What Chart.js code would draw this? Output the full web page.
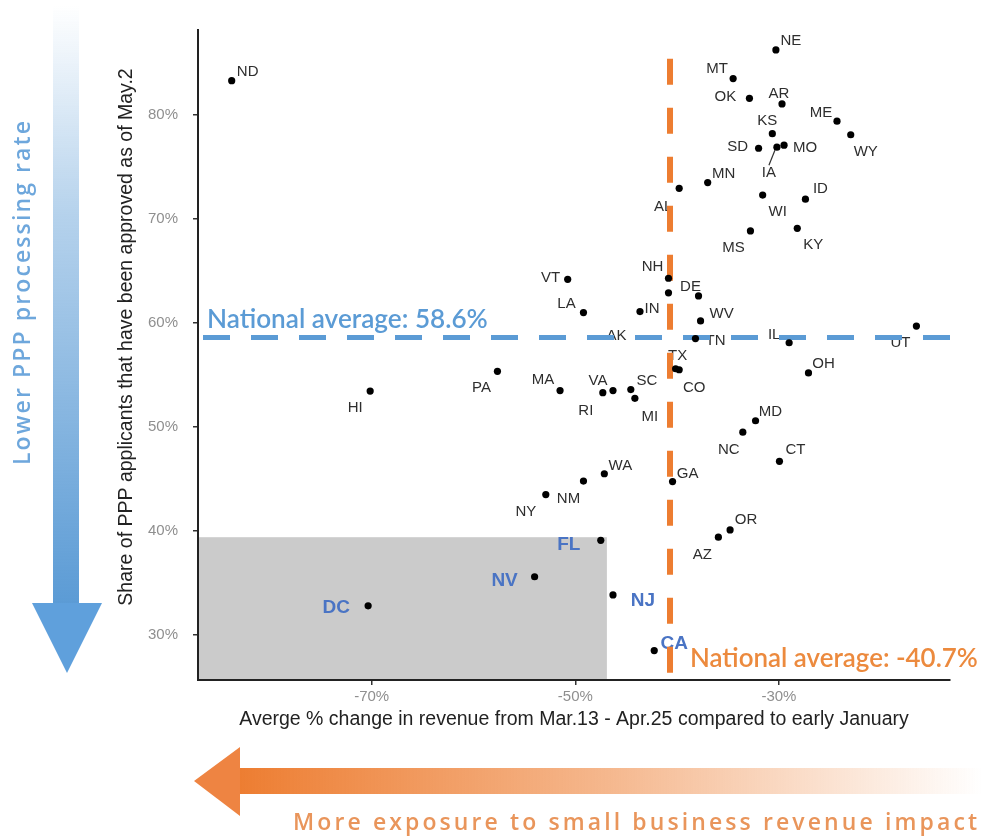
<!DOCTYPE html>
<html>
<head>
<meta charset="utf-8">
<script src="https://cdn.jsdelivr.net/npm/chart.js@4.4.1/dist/chart.umd.min.js"></script>
<style>
  html, body { margin: 0; padding: 0; background: #fff; }
  #wrap { position: relative; width: 982px; height: 837px; }
</style>
</head>
<body>
<div id="wrap"><canvas id="chart"></canvas></div>
<script>
// Данные: штат, изменение выручки (%), доля одобренных заявок PPP (%)
const states = ['ND','VT','LA','NE','MT','OK','AR','ME','WY','KS','SD','IA','MO','AL','MN','WI','ID','MS','KY',
                'NH','AK','DE','IN','WV','TN','IL','UT','TX','CO','OH','PA','HI','MA','RI','VA','SC','MI',
                'MD','NC','CT','WA','NM','NY','GA','OR','AZ','FL','NJ','CA','NV','DC'];
const revenueChange = [-83.75,-50.75,-49.2,-30.3,-34.5,-32.9,-29.7,-24.3,-22.95,-30.65,-32.0,-30.2,-29.5,-39.8,-37.0,-31.6,-27.4,-32.8,-28.2,
                       -40.85,-40.85,-37.9,-43.65,-37.7,-38.2,-29.0,-16.5,-40.15,-39.8,-27.1,-57.65,-70.15,-51.5,-47.3,-46.3,-44.55,-44.15,
                       -32.3,-33.55,-29.95,-47.15,-49.2,-52.9,-40.45,-34.8,-35.95,-47.5,-46.3,-42.25,-54.0,-70.35];
const approvedShare = [83.3,64.2,61.0,86.25,83.5,81.6,81.06,79.4,78.1,78.2,76.8,76.9,77.1,72.95,73.5,72.3,71.9,68.85,69.1,
                       64.3,62.9,62.6,61.1,60.2,58.5,58.1,59.7,55.6,55.5,55.2,55.35,53.45,53.5,53.3,53.5,53.6,52.75,
                       50.6,49.5,46.7,45.5,44.8,43.5,44.75,40.1,39.4,39.1,33.85,28.5,35.6,32.8];
const highlighted = ['FL','NJ','CA','NV','DC'];

const xTicks = [-70, -50, -30];
const yTicks = [30, 40, 50, 60, 70, 80];
const xMin = -87.06, xMax = -13.2;
const yMin = 25.67, yMax = 88.17;

const nationalRevenue = -40.7;
const nationalApproved = 58.6;
const revenueLineTop = 85.4;
const shadedCorner = [-46.9, 39.4];

const yTitle = 'Share of PPP applicants that have been approved as of May.2';

// где стоит подпись относительно точки (px)
const labelOffset = {
  ND:[16,-9], VT:[-17,-1], LA:[-17,-9], NE:[15,-9], MT:[-16,-10], OK:[-24,-1], AR:[-3,-10], ME:[-16,-8],
  WY:[15,17], KS:[-5,-13], SD:[-21,-1], IA:[-8,26], MO:[21,3], AL:[-16,19], MN:[16,-9], WI:[15,17],
  ID:[15,-10], MS:[-17,17], KY:[16,17], NH:[-16,-11], AK:[-52,43], DE:[-8,-9], IN:[12,-3], WV:[21,-7],
  TN:[20,2], IL:[-15,-8], UT:[-16,17], TX:[2,-13], CO:[15,18], OH:[15,-9], PA:[-16,17], HI:[-15,17],
  MA:[-17,-11], RI:[-17,18], VA:[-15,-10], SC:[16,-9], MI:[15,18], MD:[15,-9], NC:[-14,18], CT:[16,-11],
  WA:[16,-8], NM:[-15,18], NY:[-20,17], GA:[15,-8], OR:[16,-10], AZ:[-16,18], FL:[-32,4], NJ:[30,6],
  CA:[20,-7], NV:[-30,4], DC:[-32,2]
};

const BLUE = '#5b9bd5';
const ORANGE = '#ed7d31';
const FONT = '"Liberation Sans", Arial, sans-serif';

function drawSpaced(ctx, text, x, y, target) {
    const widths = [...text].map(ch => ctx.measureText(ch).width);
    const total = widths.reduce((a, b) => a + b, 0);
    const gap = (target - total) / (text.length - 1);
    [...text].forEach((ch, i) => {
        ctx.fillText(ch, x, y);
        x += widths[i] + gap;
    });
}

function fitFont(ctx, text, weight, family, target) {
    ctx.font = `${weight} 100px ${family}`;
    const size = 100 * target / ctx.measureText(text).width;
    ctx.font = `${weight} ${size}px ${family}`;
}

// стрелки и подписи вне области графика
const decorations = {
    id: 'decorations',
    beforeDraw(chart) {
        const ctx = chart.ctx;
        ctx.save();
        // синяя стрелка слева
        let g = ctx.createLinearGradient(0, 5, 0, 605);
        g.addColorStop(0, 'rgba(91,155,213,0)');
        g.addColorStop(0.35, 'rgba(91,155,213,0.45)');
        g.addColorStop(1, 'rgba(91,155,213,1)');
        ctx.fillStyle = g;
        ctx.fillRect(53, 5, 26, 600);
        ctx.fillStyle = '#5fa0dc';
        ctx.beginPath();
        ctx.moveTo(32, 603); ctx.lineTo(102, 603); ctx.lineTo(67, 673); ctx.closePath();
        ctx.fill();

        // оранжевая стрелка снизу
        g = ctx.createLinearGradient(237, 0, 982, 0);
        g.addColorStop(0, 'rgba(237,125,49,1)');
        g.addColorStop(0.5, 'rgba(237,125,49,0.55)');
        g.addColorStop(1, 'rgba(237,125,49,0)');
        ctx.fillStyle = g;
        ctx.fillRect(236, 768, 746, 26);
        ctx.fillStyle = '#ee8442';
        ctx.beginPath();
        ctx.moveTo(240, 747); ctx.lineTo(240, 816); ctx.lineTo(194, 781); ctx.closePath();
        ctx.fill();

        // тексты у стрелок
        ctx.fillStyle = '#6ea7dc';
        ctx.font = `600 23px "Open Sans", sans-serif`;
        ctx.textBaseline = 'middle';
        ctx.textAlign = 'left';
        ctx.save();
        ctx.translate(23, 293);
        ctx.rotate(-Math.PI / 2);
        drawSpaced(ctx, 'Lower PPP processing rate', -172, 0, 344);
        ctx.restore();

        ctx.fillStyle = '#e9955b';
        drawSpaced(ctx, 'More exposure to small business revenue impact', 293, 823, 684);

        // подпись оси Y
        ctx.fillStyle = '#222';
        ctx.font = `19.5px ${FONT}`;
        ctx.textAlign = 'center';
        ctx.translate(127, 337);
        ctx.rotate(-Math.PI / 2);
        ctx.fillText(yTitle, 0, 0);
        ctx.restore();
    },
    beforeDatasetsDraw(chart) {
        const ctx = chart.ctx;
        const { x, y } = chart.scales;
        const area = chart.chartArea;
        ctx.save();
        // серая зона
        ctx.fillStyle = '#cbcbcb';
        const rx = x.getPixelForValue(shadedCorner[0]);
        const ry = y.getPixelForValue(shadedCorner[1]);
        ctx.fillRect(area.left + 1, ry, rx - area.left - 1, area.bottom - 1 - ry);

        // подписи штатов
        const meta = chart.getDatasetMeta(0);
        ctx.textAlign = 'center';
        ctx.textBaseline = 'middle';
        meta.data.forEach((pt, i) => {
            const s = states[i];
            const off = labelOffset[s] || [14, -9];
            const hi = highlighted.includes(s);
            ctx.font = hi ? `bold 19px ${FONT}` : `15px ${FONT}`;
            ctx.fillStyle = hi ? '#4a74c4' : '#2e2e2e';
            ctx.fillText(s, pt.x + off[0], pt.y + off[1]);
            if (s === 'IA') {
                ctx.strokeStyle = '#333';
                ctx.lineWidth = 1.2;
                ctx.beginPath();
                ctx.moveTo(pt.x + off[0], pt.y + off[1] - 8);
                ctx.lineTo(pt.x - 2, pt.y + 3);
                ctx.stroke();
            }
        });
        ctx.restore();
    },
    afterDraw(chart) {
        const ctx = chart.ctx;
        ctx.save();
        ctx.textAlign = 'left';
        ctx.textBaseline = 'alphabetic';
        ctx.fillStyle = '#5b9bd5';
        fitFont(ctx, `National average: ${nationalApproved}%`, '600', 'Lato, "Open Sans", sans-serif', 281);
        ctx.fillText(`National average: ${nationalApproved}%`, 207, 328);
        ctx.fillStyle = '#ec8a3e';
        fitFont(ctx, `National average: ${nationalRevenue}%`, '600', 'Lato, "Open Sans", sans-serif', 288);
        ctx.fillText(`National average: ${nationalRevenue}%`, 690, 667);
        ctx.restore();
    }
};

Chart.defaults.font.family = FONT;

new Chart(document.getElementById('chart'), {
    type: 'scatter',
    data: {
        datasets: [
            {
                data: states.map((s, i) => ({ x: revenueChange[i], y: approvedShare[i] })),
                backgroundColor: '#000',
                borderWidth: 0,
                pointRadius: 3.6,
                pointHoverRadius: 3.6,
                order: 0
            },
            {
                data: [{ x: nationalRevenue, y: revenueLineTop }, { x: nationalRevenue, y: yMin }],
                showLine: true,
                borderColor: ORANGE,
                borderWidth: 6,
                borderDash: [26, 23],
                pointRadius: 0,
                order: 1
            },
            {
                data: [{ x: xMin, y: nationalApproved }, { x: xMax, y: nationalApproved }],
                showLine: true,
                borderColor: BLUE,
                borderWidth: 5,
                borderDash: [27, 21],
                borderDashOffset: 43,
                pointRadius: 0,
                order: 1
            }
        ]
    },
    options: {
        responsive: true,
        maintainAspectRatio: false,
        animation: false,
        events: [],
        layout: { padding: { left: 114, top: 30, right: 32, bottom: 106 } },
        plugins: { legend: { display: false }, tooltip: { enabled: false } },
        scales: {
            x: {
                type: 'linear',
                min: xMin,
                max: xMax,
                afterBuildTicks: s => { s.ticks = xTicks.map(v => ({ value: v })); },
                afterFit: s => { s.height = 51; },
                ticks: { callback: v => v + '%', color: '#8f8f8f', font: { size: 15 }, padding: 3 },
                grid: { drawOnChartArea: false, drawTicks: true, tickLength: 5, color: '#333', lineWidth: 1.5 },
                border: { color: '#222', width: 2 },
                title: {
                    display: true,
                    text: 'Averge % change in revenue from Mar.13 - Apr.25 compared to early January',
                    color: '#222',
                    font: { size: 19.5 },
                    padding: 0
                }
            },
            y: {
                type: 'linear',
                min: yMin,
                max: yMax,
                afterBuildTicks: s => { s.ticks = yTicks.map(v => ({ value: v })); },
                afterFit: s => { s.width = 84; },
                ticks: { callback: v => v + '%', color: '#8f8f8f', font: { size: 15 }, padding: 15 },
                grid: { drawOnChartArea: false, drawTicks: true, tickLength: 5, color: '#333', lineWidth: 1.5 },
                border: { color: '#222', width: 2 },
                title: { display: false }
            }
        }
    },
    plugins: [decorations]
});
</script>
</body>
</html>
